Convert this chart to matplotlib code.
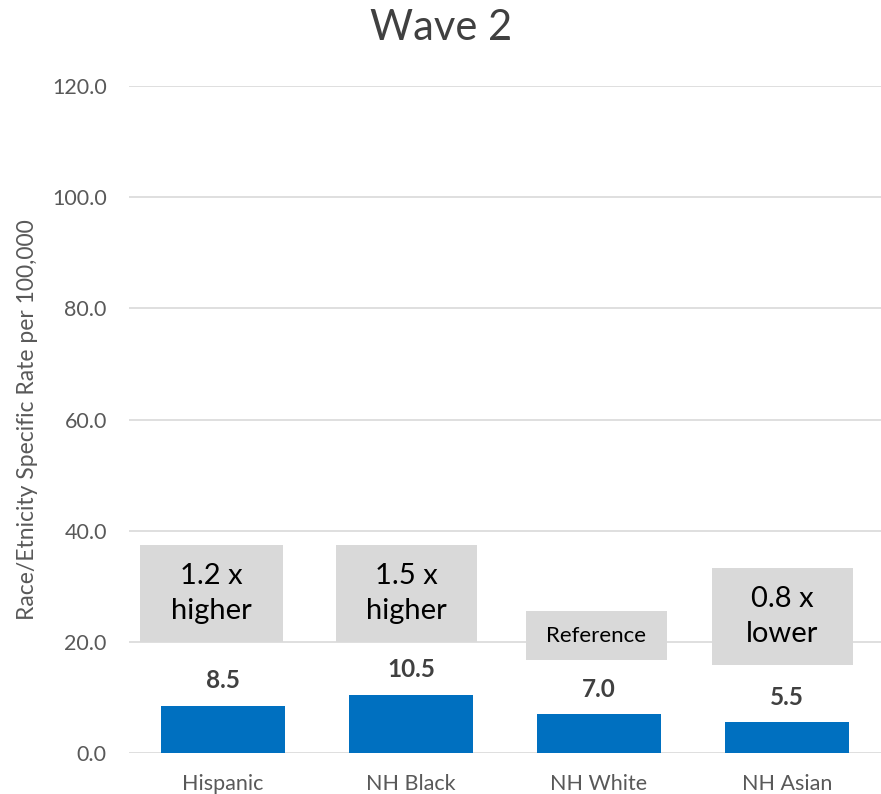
import matplotlib
matplotlib.use("Agg")
import matplotlib.pyplot as plt
from matplotlib.patches import Rectangle

plt.rcParams['font.family'] = ['Lato', 'DejaVu Sans']

categories = ["Hispanic", "NH Black", "NH White", "NH Asian"]
rates = [8.5, 10.5, 7.0, 5.5]
notes = ["1.2 x\nhigher", "1.5 x\nhigher", "Reference", "0.8 x\nlower"]
# annotation boxes: (left offset, right offset, bottom, top) in data units
note_boxes = [(-0.44, 0.32, 20.0, 37.4),
              (-0.40, 0.35, 20.0, 37.4),
              (-0.39, 0.36, 16.7, 25.5),
              (-0.40, 0.35, 15.8, 33.3)]
note_sizes = [21, 21, 16, 21]

fig = plt.figure(figsize=(8.81, 7.94), dpi=100)
ax = fig.add_axes([129 / 881, 1 - 753 / 794, 752 / 881, 667 / 794])

x = range(len(categories))
ax.bar(x, rates, width=0.66, color="#0070C0", zorder=3)

ax.set_xlim(-0.5, len(categories) - 0.5)
ax.set_ylim(0, 120)
ax.set_yticks(range(0, 121, 20))
ax.set_yticklabels([f"{v:.1f}" for v in range(0, 121, 20)])
ax.set_xticks(list(x))
ax.set_xticklabels(categories)
ax.tick_params(axis="both", length=0, labelsize=15.5, labelcolor="#595959")
ax.tick_params(axis="y", pad=16)
ax.tick_params(axis="x", pad=15)
ax.grid(axis="y", color="#D9D9D9", linewidth=1.2, zorder=0)
for s in ax.spines.values():
    s.set_visible(False)

ax.set_ylabel("Race/Etnicity Specific Rate per 100,000", fontsize=16.5,
              color="#595959", labelpad=10)

for i, v in enumerate(rates):
    ax.text(i, v + 2.4, f"{v:.1f}", ha="center", va="bottom", fontsize=17.5,
            fontweight="bold", color="#404040", zorder=4)

for i, (note, (l, r, b, t), fs) in enumerate(zip(notes, note_boxes, note_sizes)):
    ax.add_patch(Rectangle((i + l, b), r - l, t - b, facecolor="#D9D9D9",
                           edgecolor="none", zorder=4))
    ax.text(i + (l + r) / 2, (b + t) / 2, note, ha="center", va="center",
            fontsize=fs, color="#000000", linespacing=1.4, zorder=5)

fig.text(441 / 881, 1 - 28 / 794, "Wave 2", ha="center", va="center",
         fontsize=30, color="#404040")

fig.savefig("out.png", dpi=100)
